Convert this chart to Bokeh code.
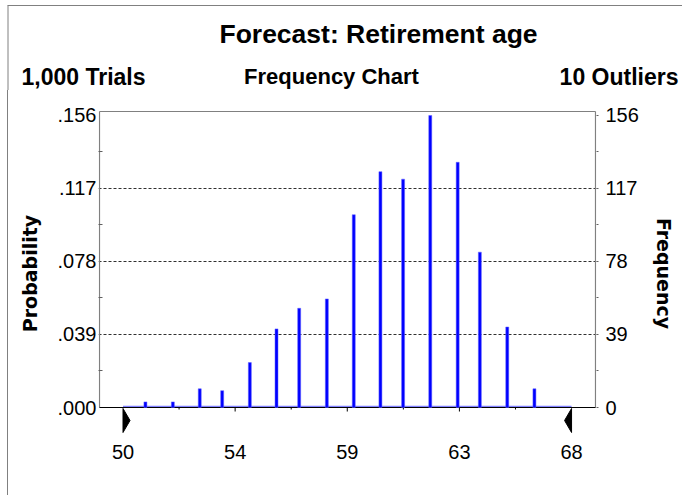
from bokeh.plotting import figure
from bokeh.models import Range1d, FixedTicker, LinearAxis, Div
from bokeh.layouts import column, row
from bokeh.core.properties import value
from bokeh.embed import file_html
from bokeh.resources import INLINE

# ---- data ----
ages = [50.9, 52.0, 53.08, 53.98, 55.09, 56.16, 57.07, 58.18, 59.26,
        60.33, 61.24, 62.33, 63.43, 64.32, 65.42, 66.51]
freq = [3, 3, 10, 9, 24, 42, 53, 58, 103, 126, 122, 156, 131, 83, 43, 10]
trials = 1000
outliers = 10
x_ticks = [50, 54.5, 59, 63.5, 68]
x_tick_labels = ["50", "54", "59", "63", "68"]
x_minor = [52.25, 56.75, 61.25, 65.75]
freq_ticks = [0, 39, 78, 117, 156]
freq_minor = [19.5, 58.5, 97.5, 136.5]
grid_vals = [39, 78, 117]
certainty = [50, 68]

title_text = "Forecast: Retirement age"
left_text = "1,000 Trials"
mid_text = "Frequency Chart"
right_text = "10 Outliers"

FONT = "Liberation Sans"
BORDER = "#808080"

# ---- header (title rows) ----
HW, HH = 682, 90
hdr = figure(width=HW, height=HH, output_backend="svg", toolbar_location=None,
             x_range=Range1d(0, HW), y_range=Range1d(HH, 0),
             x_axis_type=None, y_axis_type=None, min_border=0)
hdr.outline_line_color = None
hdr.grid.visible = False
hdr.border_fill_color = "white"
hdr.segment(x0=[7, 7.5], y0=[5, 5], x1=[HW, 7.5], y1=[5, HH], line_color=BORDER, line_width=1)
hdr.text(x=[378], y=[33], text=[title_text], text_font=value(FONT), text_font_size="26.5px",
         text_font_style="bold", text_align="center", text_baseline="middle", text_color="black")
hdr.text(x=[21], y=[76], text=[left_text], text_font=value(FONT), text_font_size="23px",
         text_font_style="bold", text_align="left", text_baseline="middle", text_color="black")
hdr.text(x=[331], y=[76], text=[mid_text], text_font=value(FONT), text_font_size="22px",
         text_font_style="bold", text_align="center", text_baseline="middle", text_color="black")
hdr.text(x=[678], y=[76], text=[right_text], text_font=value(FONT), text_font_size="23px",
         text_font_style="bold", text_align="right", text_baseline="middle", text_color="black")

# ---- left strip (page border) ----
MX, MY = 8, 90                          # page offset of main figure
strip = Div(text='<div style="width:1px;height:%dpx;background:%s;margin-left:7px"></div>'
            % (495 - MY, BORDER), width=MX, height=495 - MY, margin=0)

# ---- main chart ----
W, H = 682 - MX, 495 - MY
FL, FR, FT, FB = 98, 596, 110, 436      # frame edges, page px
ZX, ZY = 122.5, 407                      # page px of x=50 and y=0
PX_X = 24.92                             # px per year
PX_Y = 1.8718                            # px per count
X0 = certainty[0] - (ZX - FL) / PX_X
X1 = certainty[0] + (FR - ZX) / PX_X
Y1 = (ZY - FT) / PX_Y
Y0 = -(FB - ZY) / PX_Y
XL = X0 + 1 / PX_X
XR = X1 - 1 / PX_X
YT = Y1 - 1 / PX_Y

p = figure(width=W, height=H, output_backend="svg", toolbar_location=None,
           x_range=Range1d(X0, X1), y_range=Range1d(Y0, Y1),
           min_border_left=FL - MX, min_border_right=682 - FR,
           min_border_top=FT - MY, min_border_bottom=495 - FB)
p.outline_line_color = None
p.background_fill_color = "white"
p.border_fill_color = "white"
p.xgrid.grid_line_color = None
p.ygrid.ticker = FixedTicker(ticks=grid_vals)
p.ygrid.grid_line_color = "#303030"
p.ygrid.grid_line_dash = "3 2"
p.ygrid.grid_line_width = 1

# x axis (labels only)
xa = p.xaxis[0]
xa.ticker = FixedTicker(ticks=x_ticks)
xa.major_label_overrides = {float(t): l for t, l in zip(x_ticks, x_tick_labels)}
xa.axis_line_color = None
xa.major_tick_line_color = None
xa.minor_tick_line_color = None
xa.major_label_standoff = 2
xa.major_label_text_font = FONT
xa.major_label_text_font_size = "20px"
xa.major_label_text_color = "black"

# left axis: probability
ya = p.yaxis[0]
ya.ticker = FixedTicker(ticks=freq_ticks, minor_ticks=freq_minor)
ya.major_label_overrides = {float(t): ("%.3f" % (t / trials))[1:] for t in freq_ticks}
ya.axis_line_color = None
ya.major_tick_line_color = None
ya.minor_tick_in = 4
ya.minor_tick_out = 0
ya.minor_tick_line_color = "#606060"
ya.major_label_standoff = -4
ya.major_label_text_font = FONT
ya.major_label_text_font_size = "20px"
ya.major_label_text_color = "black"
ya.axis_label = "Probability"
ya.axis_label_text_font = "DejaVu Sans"
ya.axis_label_text_font_style = "bold"
ya.axis_label_text_font_size = "19px"
ya.axis_label_text_color = "black"
ya.axis_label_standoff = 14

# right axis: frequency
ra = LinearAxis(ticker=FixedTicker(ticks=freq_ticks, minor_ticks=freq_minor))
ra.axis_line_color = None
ra.major_tick_in = 0
ra.major_tick_out = 2
ra.minor_tick_in = 0
ra.minor_tick_out = 2
ra.major_tick_line_color = "#606060"
ra.minor_tick_line_color = "#606060"
ra.major_label_standoff = 7
ra.major_label_text_font = FONT
ra.major_label_text_font_size = "20px"
ra.major_label_text_color = "black"
ra.axis_label = "Frequency"
ra.axis_label_text_font = "DejaVu Sans"
ra.axis_label_text_font_style = "bold"
ra.axis_label_text_font_size = "19px"
ra.axis_label_text_color = "black"
ra.axis_label_standoff = 11
p.add_layout(ra, "right")

# box lines
p.segment(x0=[XL, XR, XL], y0=[0, 0, YT], x1=[XL, XR, XR], y1=[YT, YT, YT],
          line_color=BORDER, line_width=1.2)
# baseline of histogram
p.segment(x0=[certainty[0]], y0=[0.55], x1=[certainty[1]], y1=[0.55],
          line_color="#8080ff", line_width=1.5)
# x axis line
p.segment(x0=[XL], y0=[0], x1=[XR], y1=[0], line_color="black", line_width=1.2)
# x ticks
p.segment(x0=x_ticks[1:-1], y0=[0] * 3, x1=x_ticks[1:-1], y1=[-4 / PX_Y] * 3,
          line_color="black", line_width=1)
p.segment(x0=x_minor, y0=[0] * len(x_minor), x1=x_minor, y1=[-2 / PX_Y] * len(x_minor),
          line_color="black", line_width=1)

# bars
p.vbar(x=ages, top=freq, bottom=0, width=0.12, fill_color="#0000ff",
       line_color="#6060ff", line_width=0.5)

# certainty grabbers
dx = 7 / PX_X
ytop, ybot = -1 / PX_Y, -25 / PX_Y
ymid = (ytop + ybot) / 2
p.patches(xs=[[certainty[0], certainty[0], certainty[0] + dx],
              [certainty[1], certainty[1], certainty[1] - dx]],
          ys=[[ytop, ybot, ymid], [ytop, ybot, ymid]],
          fill_color="black", line_color="black")

layout = column(hdr, row(strip, p, spacing=0), spacing=0)
open("out.html", "w").write(file_html(layout, INLINE))
